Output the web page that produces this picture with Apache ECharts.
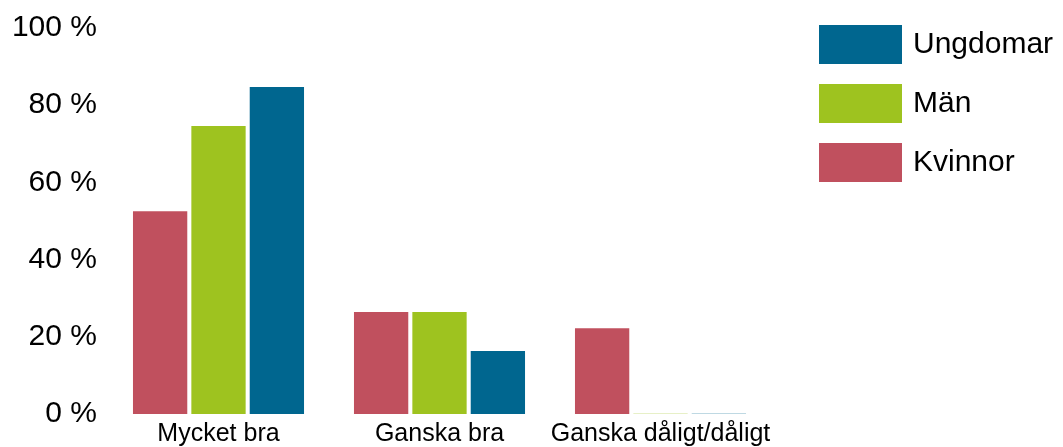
<!DOCTYPE html>
<html>
<head>
<meta charset="utf-8">
<script src="https://cdn.jsdelivr.net/npm/echarts@6/dist/echarts.min.js"></script>
<style>html,body{margin:0;padding:0;background:#fff}#c{width:1063px;height:447px}</style>
</head>
<body>
<div id="c"></div>
<script>
const categories = ['Mycket bra', 'Ganska bra', 'Ganska dåligt/dåligt'];
const kvinnor = [52.5, 26.4, 22.2];
const man = [74.6, 26.4, 0];
const ungdomar = [84.7, 16.3, 0];
const yTicks = [0, 20, 40, 60, 80, 100];

const font = '"Liberation Sans", Arial, Helvetica, sans-serif';
const colors = { Kvinnor: '#C0505E', 'Män': '#9EC31F', Ungdomar: '#00668F' };

function mk(name, arr) {
  return {
    name: name,
    type: 'bar',
    barGap: '7.5%',
    barCategoryGap: '22.6%',
    barMinHeight: 1,
    itemStyle: { color: colors[name] },
    data: arr.map(v => v === 0 ? { value: 0, itemStyle: { opacity: 0.25 } } : v)
  };
}

const chart = echarts.init(document.getElementById('c'), null, { renderer: 'canvas' });
chart.setOption({
  animation: false,
  backgroundColor: '#fff',
  grid: { left: 108, right: 292, top: 28, bottom: 32, containLabel: false },
  legend: {
    orient: 'vertical',
    left: 819,
    top: 25,
    padding: 0,
    itemWidth: 83,
    itemHeight: 39,
    itemGap: 20,
    icon: 'rect',
    data: ['Ungdomar', 'Män', 'Kvinnor'],
    textStyle: { fontFamily: font, fontSize: 30, color: '#000', padding: [0, 0, 0, 6] }
  },
  xAxis: {
    type: 'category',
    data: categories,
    axisLine: { show: false },
    axisTick: { show: false },
    axisLabel: { fontFamily: font, fontSize: 25, color: '#000', margin: 8, interval: 0 }
  },
  yAxis: {
    type: 'value',
    min: yTicks[0],
    max: yTicks[yTicks.length - 1],
    interval: 20,
    splitLine: { show: false },
    axisLine: { show: false },
    axisTick: { show: false },
    axisLabel: { fontFamily: font, fontSize: 30, color: '#000', margin: 11, formatter: v => v + ' %' }
  },
  series: [mk('Kvinnor', kvinnor), mk('Män', man), mk('Ungdomar', ungdomar)]
});
</script>
</body>
</html>
